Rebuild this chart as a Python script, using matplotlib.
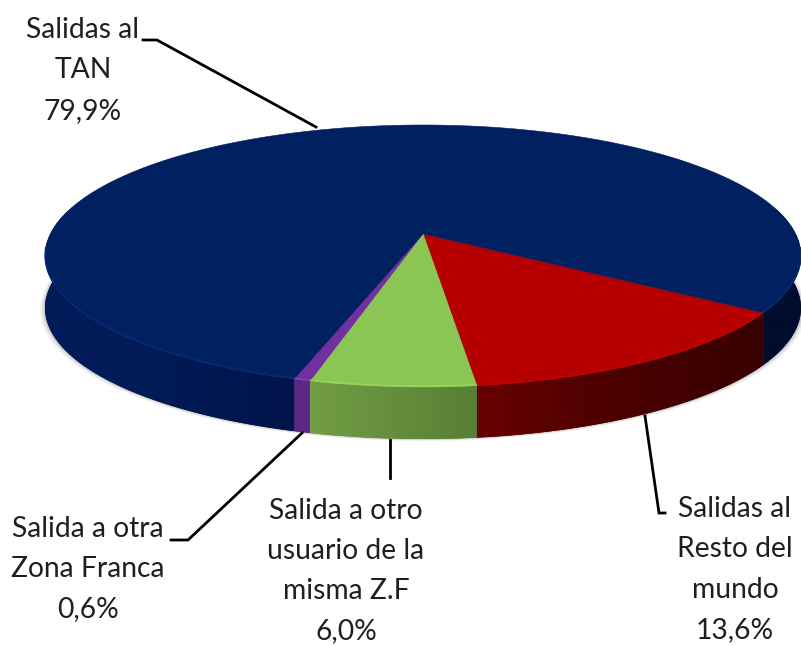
import numpy as np
import matplotlib
matplotlib.use("Agg")
import matplotlib.pyplot as plt
from matplotlib.colors import to_rgb

# values as printed on the chart (they add up to 100,1)
labels = ["Salidas al\nResto del\nmundo", "Salida a otro\nusuario de la\nmisma Z.F", "Salida a otra\nZona Franca", "Salidas al\nTAN"]
values = [13.6, 6.0, 0.6, 79.9]
pct_labels = ["13,6%", "6,0%", "0,6%", "79,9%"]
top_colors = ["#B60000", "#8BC553", "#7030A0", "#002060"]
rim_colors = ["#BE0606", "#A2DC62", "#8A45BC", "#06307E"]
# side wall shades: (x in pixels, colour) stops, one list per slice
side_stops = [
    [(475, "#6A0000"), (600, "#4E0000"), (760, "#380000")],
    [(308, "#729E45"), (475, "#587F33")],
    [(294, "#5A2785"), (308, "#5A2785")],
    [(45, "#001C58"), (150, "#001B56"), (294, "#00144A"), (761, "#000C2C"), (801, "#000C2C")],
]

W, H = 801, 646
cx, cy, rx, ry = 423, 256, 378, 131
tilt = 0.17     # moves the apex up from the middle of the ellipse, looks like perspective
depth = 52
start_deg = -34.2


def project(t):
    u, v = np.cos(t), np.sin(t)
    d = 1 + tilt * v
    x = u * np.sqrt(1 - tilt ** 2) / d
    y = (v + tilt) / d
    return cx + rx * x, cy - ry * y


apex_x, apex_y = cx, cy - ry * tilt

plt.rcParams["font.family"] = ["Lato", "DejaVu Sans"]
fig = plt.figure(figsize=(W / 100, H / 100), dpi=100)
ax = fig.add_axes([0, 0, 1, 1])

# wedge angles, clockwise from the right side
total = sum(values)
edges = [np.radians(start_deg)]
for val in values:
    edges.append(edges[-1] - 2 * np.pi * val / total)

# soft shadow under the disc
tt = np.linspace(0, 2 * np.pi, 400)
sx, sy = project(tt)
for grow, alpha in [(5, 0.05), (3, 0.07), (1.5, 0.10)]:
    ax.fill(cx + (sx - cx) * (1 + grow / rx), sy + depth + grow * 0.4, color="black", alpha=alpha, lw=0, zorder=1)

# side wall: horizontal gradient image clipped to each slice's wall
px = np.arange(W) + 0.5
for i in range(len(values)):
    aa = np.linspace(edges[i], edges[i + 1], 400)
    aa = aa[np.sin(aa) < 0.2]
    xs, ys = project(aa)
    # navy wraps round the back, so its wall comes in two pieces
    gaps = np.where(np.abs(np.diff(xs)) > 50)[0] + 1
    stops = side_stops[i]
    grad = np.array([np.interp(px, [s[0] for s in stops], [to_rgb(s[1])[c] for s in stops]) for c in range(3)]).T
    img = grad[np.newaxis, :, :]
    for seg_x, seg_y in zip(np.split(xs, gaps), np.split(ys, gaps)):
        poly_x = np.r_[seg_x, seg_x[::-1]]
        poly_y = np.r_[seg_y, seg_y[::-1] + depth]
        patch = ax.fill(poly_x, poly_y, color=stops[-1][1], lw=0, zorder=2)[0]
        im = ax.imshow(img, extent=(0, W, H, 0), aspect="auto", zorder=2.1, interpolation="bilinear")
        im.set_clip_path(patch)

ax.set_xlim(0, W)
ax.set_ylim(H, 0)
ax.axis("off")

# top of the pie
for i in range(len(values)):
    aa = np.linspace(edges[i], edges[i + 1], 300)
    xs, ys = project(aa)
    ax.fill(np.r_[apex_x, xs], np.r_[apex_y, ys], color=top_colors[i], ec=top_colors[i], lw=0.4, zorder=3)
    # light rim along the front edge, nan keeps the two navy pieces apart
    rim_y = np.where(np.sin(aa) < -0.1, ys - 1, np.nan)
    ax.plot(xs, rim_y, color=rim_colors[i], lw=1.2, alpha=0.6, zorder=4, solid_capstyle="butt")

# leader lines
leaders = [
    ([665, 659, 645], [513, 513, 416]),
    ([390, 390], [440, 478]),
    ([171, 188, 302], [540, 540, 433]),
    ([143, 157, 316], [40, 40, 127]),
]
for lx, ly in leaders:
    ax.plot(lx, ly, color="black", lw=2, zorder=5, solid_joinstyle="miter")

# text blocks, each centred on its middle line
fs = 20.3
line_sp = 1.68
text_x = [735, 346, 88, 83]
text_y = [569.5, 571, 569, 70.5]
for i in range(len(values)):
    ax.text(text_x[i], text_y[i], labels[i] + "\n" + pct_labels[i], ha="center", va="center",
            fontsize=fs, color="#1F1F1F", linespacing=line_sp)

fig.savefig("out.png", dpi=100)
